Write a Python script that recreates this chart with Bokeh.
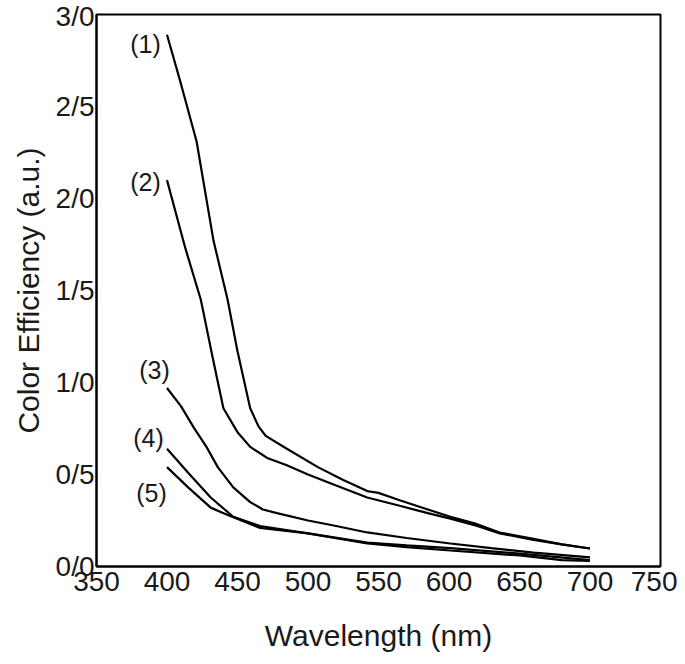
from bokeh.plotting import figure
from bokeh.models import FixedTicker, ColumnDataSource, Range1d
from bokeh.core.properties import value
from bokeh.embed import file_html
from bokeh.resources import INLINE

FONT = "Liberation Sans"

# Data
c1_x = [400, 410, 421, 433, 443, 450, 459, 465, 470, 485, 507, 525, 542, 550, 565, 585, 601, 620, 636, 660, 680, 700]
c1_y = [2.89, 2.62, 2.31, 1.77, 1.45, 1.17, 0.86, 0.76, 0.71, 0.64, 0.54, 0.47, 0.41, 0.40, 0.36, 0.31, 0.27, 0.23, 0.185, 0.15, 0.12, 0.098]
c2_x = [400, 413, 424, 432, 440, 450, 459, 471, 485, 500, 520, 542, 565, 585, 601, 620, 636, 660, 680, 700]
c2_y = [2.10, 1.73, 1.45, 1.15, 0.86, 0.73, 0.65, 0.59, 0.55, 0.50, 0.44, 0.375, 0.33, 0.29, 0.26, 0.22, 0.18, 0.145, 0.12, 0.098]
c3_x = [400, 410, 419, 428, 436, 447, 459, 468, 478, 500, 520, 542, 570, 601, 630, 660, 700]
c3_y = [0.97, 0.87, 0.755, 0.65, 0.54, 0.43, 0.35, 0.31, 0.29, 0.25, 0.22, 0.185, 0.155, 0.125, 0.10, 0.075, 0.05]
c4_x = [400, 415, 431, 447, 466, 500, 542, 570, 601, 650, 700]
c4_y = [0.64, 0.51, 0.375, 0.27, 0.22, 0.18, 0.13, 0.115, 0.10, 0.07, 0.035]
c5_x = [400, 415, 431, 443, 466, 500, 542, 570, 601, 650, 680, 700]
c5_y = [0.54, 0.43, 0.32, 0.28, 0.21, 0.18, 0.125, 0.105, 0.087, 0.06, 0.035, 0.03]

curve_labels = ["(1)", "(2)", "(3)", "(4)", "(5)"]
label_x = [384.8, 384.8, 391.1, 386.9, 389.0]
label_y = [2.837, 2.092, 1.07, 0.70, 0.40]

x_ticks = [350, 400, 450, 500, 550, 600, 650, 700, 750]
y_ticks = [0.0, 0.5, 1.0, 1.5, 2.0, 2.5, 3.0]
y_tick_labels = ["0/0", "0/5", "1/0", "1/5", "2/0", "2/5", "3/0"]

W, H = 677, 660
p = figure(width=W, height=H, output_backend="svg", toolbar_location=None,
           x_range=Range1d(350, 750), y_range=Range1d(0, 3.0),
           min_border_left=96, min_border_top=14, min_border_right=17, min_border_bottom=94)
p.background_fill_color = "white"
p.border_fill_color = "white"
p.grid.visible = False
p.outline_line_color = "black"
p.outline_line_width = 2
p.outline_line_alpha = 1.0

for ax in (p.xaxis[0], p.yaxis[0]):
    ax.major_tick_in = 0
    ax.major_tick_out = 0
    ax.minor_tick_in = 0
    ax.minor_tick_out = 0
    ax.axis_line_color = "black"
    ax.axis_line_width = 2
    ax.major_label_text_font = FONT
    ax.major_label_text_font_size = "28px"
    ax.major_label_text_color = "#1a1a1a"
    ax.axis_label_text_font = FONT
    ax.axis_label_text_font_size = "30px"
    ax.axis_label_text_font_style = "normal"
    ax.axis_label_text_color = "#1a1a1a"

p.xaxis.ticker = FixedTicker(ticks=x_ticks)
p.yaxis.ticker = FixedTicker(ticks=y_ticks)
p.yaxis.major_label_overrides = {t: l for t, l in zip(y_ticks, y_tick_labels)}
p.xaxis.major_label_standoff = 5
p.yaxis.major_label_standoff = 2
p.xaxis.axis_label = "Wavelength (nm)"
p.yaxis.axis_label = "Color Efficiency (a.u.)"
p.xaxis.axis_label_standoff = 25
p.yaxis.axis_label_standoff = 8

for xs, ys in [(c1_x, c1_y), (c2_x, c2_y), (c3_x, c3_y), (c4_x, c4_y), (c5_x, c5_y)]:
    p.line(xs, ys, line_color="black", line_width=2.2)

src = ColumnDataSource(dict(x=label_x, y=label_y, t=curve_labels))
p.text(x="x", y="y", text="t", source=src, text_font=value(FONT),
       text_font_size="25px", text_align="center", text_baseline="middle",
       text_color="#1a1a1a")

open("out.html", "w").write(file_html(p, INLINE))
